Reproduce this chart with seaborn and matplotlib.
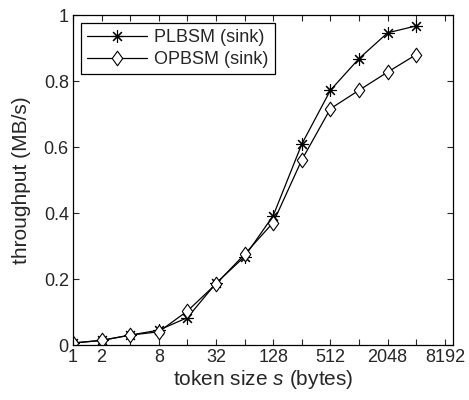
import matplotlib
matplotlib.use('Agg')
import matplotlib.pyplot as plt
import numpy as np
import pandas as pd
import seaborn as sns

# token sizes (bytes) and measured throughput (MB/s)
sizes=[1,2,4,8,16,32,64,128,256,512,1024,2048,4096]
plbsm=[0.006,0.014,0.030,0.045,0.083,0.187,0.268,0.392,0.609,0.772,0.868,0.946,0.967]
opbsm=[0.006,0.014,0.030,0.040,0.103,0.185,0.275,0.371,0.561,0.716,0.772,0.827,0.880]
names=['PLBSM (sink)','OPBSM (sink)']

xticks=[2**i for i in range(14)]
xlabels=['1','2','','8','','32','','128','','512','','2048','','8192']
yticks=[0,0.2,0.4,0.6,0.8,1]
ylabels=['0','0.2','0.4','0.6','0.8','1']

sns.set_style('ticks')
plt.rcParams['font.family']=['Liberation Sans','DejaVu Sans']
plt.rcParams['mathtext.fontset']='custom'
plt.rcParams['mathtext.rm']='Liberation Sans'
plt.rcParams['mathtext.it']='Liberation Sans:italic'

df=pd.DataFrame({'size':sizes*2,
                 'throughput':plbsm+opbsm,
                 'series':[names[0]]*len(sizes)+[names[1]]*len(sizes)})

diamond=[(-0.72,0),(0,1),(0.72,0),(0,-1),(-0.72,0)]

fig=plt.figure(figsize=(4.69,4.00),dpi=100)
ax=fig.add_axes([0.1557,0.1375,0.8103,0.825])

sns.lineplot(data=df[df.series==names[0]],x='size',y='throughput',ax=ax,
             color='black',lw=0.9,marker=(8,2,0),markersize=9,
             markeredgecolor='black',markeredgewidth=0.8,label=names[0])
sns.lineplot(data=df[df.series==names[1]],x='size',y='throughput',ax=ax,
             color='black',lw=0.9,marker=diamond,markersize=10.5,
             markerfacecolor='white',markeredgecolor='black',markeredgewidth=0.8,
             label=names[1])

ax.set_xscale('log',base=2)
ax.set_xlim(1,10000)
ax.set_ylim(0,1)
ax.set_xticks(xticks)
ax.set_xticklabels(xlabels)
ax.minorticks_off()
ax.set_yticks(yticks)
ax.set_yticklabels(ylabels)
ax.tick_params(direction='in',top=True,right=True,length=4,width=0.8,labelsize=13,pad=3)
for s in ax.spines.values():
    s.set_linewidth(0.9)
    s.set_color('black')

ax.set_xlabel('token size $\\mathit{s}$ (bytes)',fontsize=15,labelpad=1)
ax.set_ylabel('throughput (MB/s)',fontsize=15,labelpad=9)

leg=ax.legend(loc='upper left',fontsize=13,frameon=True,fancybox=False,
              edgecolor='black',framealpha=1,borderpad=0.35,handlelength=3.3,
              labelspacing=0.25,borderaxespad=0.45,handletextpad=0.4)
leg.get_frame().set_linewidth(0.9)

fig.savefig('out.png',dpi=100)
